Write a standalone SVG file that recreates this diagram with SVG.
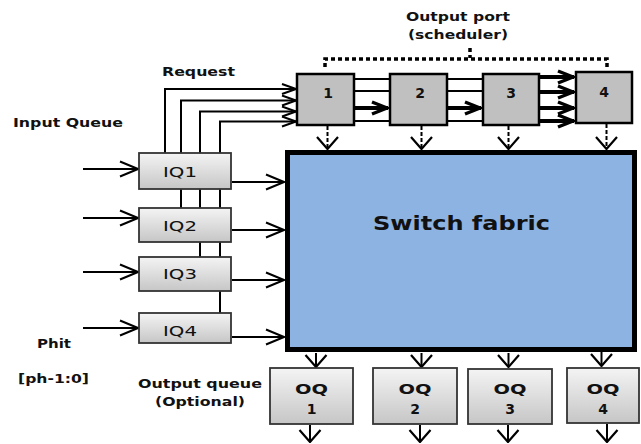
<svg xmlns="http://www.w3.org/2000/svg" width="641" height="444" viewBox="0 0 641 444">
<style>
text{font-family:"DejaVu Sans","Liberation Sans",sans-serif;fill:#111;}
.lbl{font-weight:bold;font-size:12px;}
.big{font-weight:bold;font-size:19px;}
.iq{font-size:14px;}
.num{font-weight:bold;font-size:14px;text-anchor:middle;}
.port{fill:#C0C0C0;stroke:#000;stroke-width:2.5;}
.q{fill:url(#qg);stroke:#333;stroke-width:1.8;}
.ln{fill:none;stroke:#000;stroke-width:2;}
.thick{fill:none;stroke:#000;stroke-width:4;}
.dash{fill:none;stroke:#000;stroke-width:2;stroke-dasharray:4,2;}
</style>
<defs>
<linearGradient id="qg" x1="0" y1="0" x2="0" y2="1">
<stop offset="0" stop-color="#F4F4F4"/>
<stop offset="1" stop-color="#C6C6C6"/>
</linearGradient>
<marker id="vin" viewBox="0 0 20 18" refX="19" refY="9" markerWidth="20" markerHeight="18" markerUnits="userSpaceOnUse" orient="auto">
<path d="M1,1.5 L19,9 L1,16.5" fill="none" stroke="#000" stroke-width="2"/>
</marker>
<marker id="vdn" viewBox="0 0 14 24" refX="13" refY="12" markerWidth="14" markerHeight="24" markerUnits="userSpaceOnUse" orient="auto">
<path d="M1,1.5 L13,12 L1,22.5" fill="none" stroke="#000" stroke-width="2.2"/>
</marker>
<marker id="vs" viewBox="0 0 16 12" refX="15" refY="6" markerWidth="16" markerHeight="12" markerUnits="userSpaceOnUse" orient="auto">
<path d="M1,1 L15,6 L1,11" fill="none" stroke="#000" stroke-width="2"/>
</marker>
<marker id="vt" viewBox="0 0 18 16" refX="17" refY="8" markerWidth="18" markerHeight="16" markerUnits="userSpaceOnUse" orient="auto">
<path d="M1,2 L16,8 L1,14" fill="none" stroke="#000" stroke-width="3.5"/>
</marker>
</defs>

<g id="labels">
<text class="lbl" x="458" y="21" text-anchor="middle" textLength="104" lengthAdjust="spacingAndGlyphs">Output port</text>
<text class="lbl" x="458" y="39" text-anchor="middle" textLength="100" lengthAdjust="spacingAndGlyphs">(scheduler)</text>
<text class="lbl" x="162" y="75.5" textLength="73" lengthAdjust="spacingAndGlyphs">Request</text>
<text class="lbl" x="13" y="126.5" font-size="13" textLength="110" lengthAdjust="spacingAndGlyphs">Input Queue</text>
<text class="lbl" x="37" y="347.5" textLength="34" lengthAdjust="spacingAndGlyphs">Phit</text>
<text class="lbl" x="18" y="383" textLength="71" lengthAdjust="spacingAndGlyphs">[ph-1:0]</text>
<text class="lbl" x="138" y="387.5" textLength="124" lengthAdjust="spacingAndGlyphs">Output queue</text>
<text class="lbl" x="155" y="406" textLength="90" lengthAdjust="spacingAndGlyphs">(Optional)</text>
</g>

<g id="connectors">
<path class="ln" d="M165,154 V89 H296" marker-end="url(#vs)"/>
<path class="ln" d="M181,209 V100.5 H296" marker-end="url(#vs)"/>
<path class="ln" d="M200,258 V111.5 H296" marker-end="url(#vs)"/>
<path class="ln" d="M220,314 V121.5 H296" marker-end="url(#vs)"/>
<path class="ln" d="M354,79 H390 M354,91 H390 M354,121 H390"/>
<path class="thick" d="M354,108 H388" marker-end="url(#vt)"/>
<path class="ln" d="M447,79 H483 M447,91 H483 M447,121 H483"/>
<path class="thick" d="M447,108 H481" marker-end="url(#vt)"/>
<path class="thick" d="M539,77 H574" marker-end="url(#vt)"/>
<path class="thick" d="M539,92 H574" marker-end="url(#vt)"/>
<path class="thick" d="M539,108 H574" marker-end="url(#vt)"/>
<path class="thick" d="M539,121 H574" marker-end="url(#vt)"/>
<path d="M325,67 V59 H607 V67" fill="none" stroke="#000" stroke-width="3.5" stroke-dasharray="4,3"/>
<path d="M470,48 V58" fill="none" stroke="#000" stroke-width="3.5" stroke-dasharray="4,3"/>
<path class="dash" d="M327.5,126 V149" marker-end="url(#vdn)"/>
<path class="dash" d="M421.5,126 V149" marker-end="url(#vdn)"/>
<path class="dash" d="M508.5,126 V149" marker-end="url(#vdn)"/>
<path class="dash" d="M606.5,124 V149" marker-end="url(#vdn)"/>
<path class="ln" d="M83,169 H138" marker-end="url(#vin)"/>
<path class="ln" d="M83,218 H138" marker-end="url(#vin)"/>
<path class="ln" d="M83,272 H138" marker-end="url(#vin)"/>
<path class="ln" d="M83,328 H138" marker-end="url(#vin)"/>
<path class="ln" d="M232,182 H284" marker-end="url(#vin)"/>
<path class="ln" d="M232,230 H284" marker-end="url(#vin)"/>
<path class="ln" d="M232,280 H284" marker-end="url(#vin)"/>
<path class="ln" d="M232,337 H284" marker-end="url(#vin)"/>
<path class="ln" d="M316,353 V367" marker-end="url(#vdn)"/>
<path class="ln" d="M421.5,353 V367" marker-end="url(#vdn)"/>
<path class="ln" d="M508.5,353 V367" marker-end="url(#vdn)"/>
<path class="ln" d="M601.5,346 V366" marker-end="url(#vdn)"/>
<path class="ln" d="M310,425 V442" marker-end="url(#vdn)"/>
<path class="ln" d="M420,425 V442" marker-end="url(#vdn)"/>
<path class="ln" d="M508,425 V442" marker-end="url(#vdn)"/>
<path class="ln" d="M607,424 V442" marker-end="url(#vdn)"/>
</g>

<g id="fabric">
<rect x="287.5" y="152.5" width="347" height="197" fill="#8DB3E2" stroke="#000" stroke-width="5"/>
<text class="big" x="461.5" y="229.5" text-anchor="middle" textLength="177" lengthAdjust="spacingAndGlyphs">Switch fabric</text>
</g>

<g id="port1"><rect class="port" x="297" y="74" width="57" height="51"/><text class="num" x="328" y="98">1</text></g>
<g id="port2"><rect class="port" x="390" y="74" width="57" height="51"/><text class="num" x="420" y="98">2</text></g>
<g id="port3"><rect class="port" x="483" y="74" width="56" height="51"/><text class="num" x="511" y="98">3</text></g>
<g id="port4"><rect class="port" x="576" y="72" width="56" height="51"/><text class="num" x="604" y="97">4</text></g>

<g id="iq1"><rect class="q" x="139" y="153" width="92" height="36"/><text class="iq" x="180" y="176.5" text-anchor="middle" textLength="34" lengthAdjust="spacingAndGlyphs">IQ1</text></g>
<g id="iq2"><rect class="q" x="139" y="208" width="92" height="34"/><text class="iq" x="180" y="231" text-anchor="middle" textLength="34" lengthAdjust="spacingAndGlyphs">IQ2</text></g>
<g id="iq3"><rect class="q" x="139" y="257" width="92" height="34"/><text class="iq" x="180" y="279" text-anchor="middle" textLength="34" lengthAdjust="spacingAndGlyphs">IQ3</text></g>
<g id="iq4"><rect class="q" x="139" y="313" width="92" height="30"/><text class="iq" x="180" y="335.5" text-anchor="middle" textLength="34" lengthAdjust="spacingAndGlyphs">IQ4</text></g>

<g id="oq1"><rect class="q" x="270" y="368" width="83" height="56"/><text class="num" x="311.5" y="393.5" textLength="33" lengthAdjust="spacingAndGlyphs">OQ</text><text class="num" x="311.5" y="413.5">1</text></g>
<g id="oq2"><rect class="q" x="373" y="368" width="84" height="56"/><text class="num" x="415" y="393.5" textLength="33" lengthAdjust="spacingAndGlyphs">OQ</text><text class="num" x="415" y="413.5">2</text></g>
<g id="oq3"><rect class="q" x="468" y="369" width="84" height="55"/><text class="num" x="510" y="393.5" textLength="33" lengthAdjust="spacingAndGlyphs">OQ</text><text class="num" x="510" y="413.5">3</text></g>
<g id="oq4"><rect class="q" x="567" y="368" width="72" height="55"/><text class="num" x="603" y="393.5" textLength="33" lengthAdjust="spacingAndGlyphs">OQ</text><text class="num" x="603" y="413.5">4</text></g>
</svg>
